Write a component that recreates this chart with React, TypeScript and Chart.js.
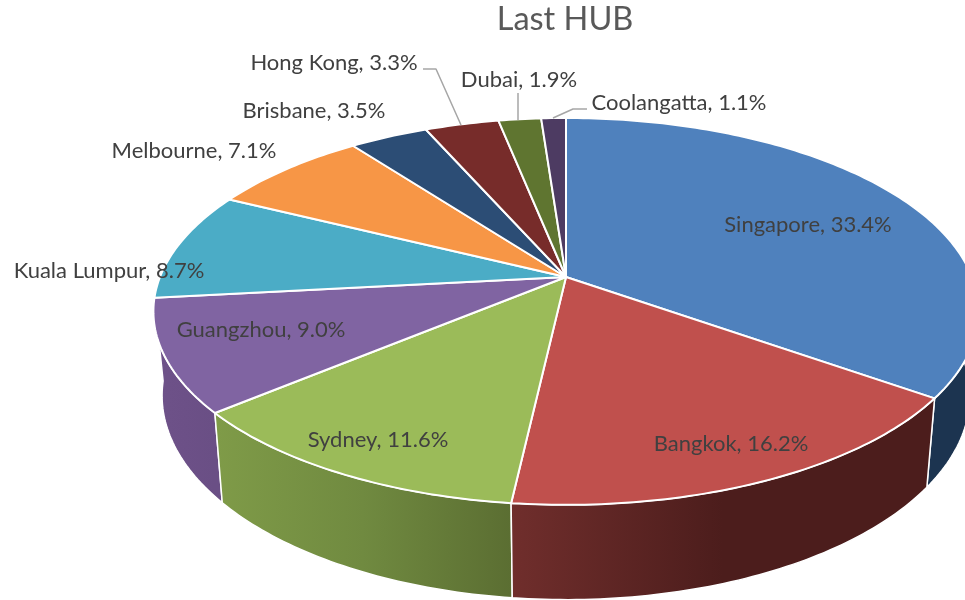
import React, { useEffect, useRef } from "react";
import { Chart, registerables } from "chart.js";

Chart.register(...registerables);

const titleText = "Last HUB";
const categories = ["Singapore", "Bangkok", "Sydney", "Guangzhou", "Kuala Lumpur", "Melbourne", "Brisbane", "Hong Kong", "Dubai", "Coolangatta"];
const shares = [33.4, 16.2, 11.6, 9.0, 8.7, 7.1, 3.5, 3.3, 1.9, 1.1];
const topColors = ["#4f81bd", "#c0504d", "#9bbb59", "#8064a2", "#4bacc6", "#f79646", "#2c4d75", "#772c2a", "#5f7530", "#4d3b62"];
const wallLeft = ["#1c3450", "#702e2c", "#7f9b48", "#6e5289", "#3a8398", "#bb7232", "#203a58", "#5a2120", "#475824", "#3a2c4a"];
const wallMid = ["#1c3450", "#4c1d1c", "#708a40", "#6c5087", "#3a8398", "#bb7232", "#203a58", "#5a2120", "#475824", "#3a2c4a"];
const wallRight = ["#1c3450", "#4c1d1c", "#5b6e32", "#6a4f85", "#3a8398", "#bb7232", "#203a58", "#5a2120", "#475824", "#3a2c4a"];
const labelCenters = [[808, 225], [731, 444], [378, 440], [261, 330], [109, 271], [194, 151], [314, 111], [334, 63], [519, 80], [679, 103]];
const leaders = [
  [[423, 69], [436, 69], [461, 125]],
  [[518, 93], [518, 120]],
  [[587, 109], [573, 109], [553, 118]],
];

// Perspective of the tilted disc: maps a point of the unit circle to the screen.
const CX = 566, CY = 277, RX = 406, RY = 138, TILT = -0.178;
const project = (angle: number) => {
  const u = Math.cos(angle), v = Math.sin(angle), w = 1 + TILT * v;
  return { x: CX + (RX * u) / w, y: (RY * v + CY) / w };
};
const lower = (p: { x: number; y: number }) => ({ x: CX + (p.x - CX) * 0.979, y: p.y * 1.055 + 67 });

const samples = (start: number, end: number) => {
  const n = Math.max(4, Math.ceil((end - start) * 60));
  const out = [];
  for (let i = 0; i <= n; i++) out.push(project(start + ((end - start) * i) / n));
  return out;
};

const pie3d = {
  id: "pie3d",
  beforeDatasetsDraw(chart: any) {
    const ctx: CanvasRenderingContext2D = chart.ctx;
    const arcs = chart.getDatasetMeta(0).data.map((el: any, i: number) => {
      const { startAngle, endAngle } = el.getProps(["startAngle", "endAngle"], true);
      return { i, startAngle, endAngle, pts: samples(startAngle, endAngle) };
    });
    ctx.save();
    ctx.lineJoin = "round";
    // walls, back to front
    [...arcs]
      .sort((a: any, b: any) => Math.sin((a.startAngle + a.endAngle) / 2) - Math.sin((b.startAngle + b.endAngle) / 2))
      .forEach((a: any) => {
        const bottom = a.pts.map(lower);
        const xs = a.pts.filter((p: any, k: number) => Math.sin(a.startAngle + ((a.endAngle - a.startAngle) * k) / (a.pts.length - 1)) > 0).map((p: any) => p.x);
        const x0 = xs.length ? Math.min(...xs) : CX - RX, x1 = xs.length ? Math.max(...xs) : CX + RX;
        const g = ctx.createLinearGradient(x0, 0, x1, 0);
        g.addColorStop(0, wallLeft[a.i]);
        g.addColorStop(0.5, wallMid[a.i]);
        g.addColorStop(1, wallRight[a.i]);
        ctx.beginPath();
        a.pts.forEach((p: any, k: number) => (k ? ctx.lineTo(p.x, p.y) : ctx.moveTo(p.x, p.y)));
        [...bottom].reverse().forEach((p: any) => ctx.lineTo(p.x, p.y));
        ctx.closePath();
        ctx.fillStyle = g;
        ctx.fill();
        ctx.strokeStyle = "#ffffff";
        ctx.lineWidth = 1.5;
        ctx.stroke();
      });
    // top faces
    arcs.forEach((a: any) => {
      ctx.beginPath();
      ctx.moveTo(CX, CY);
      a.pts.forEach((p: any) => ctx.lineTo(p.x, p.y));
      ctx.closePath();
      ctx.fillStyle = topColors[a.i];
      ctx.fill();
      ctx.strokeStyle = "#ffffff";
      ctx.lineWidth = 2;
      ctx.stroke();
    });
    // leader lines
    ctx.strokeStyle = "#a6a6a6";
    ctx.lineWidth = 1.5;
    leaders.forEach((line) => {
      ctx.beginPath();
      line.forEach(([x, y], k) => (k ? ctx.lineTo(x, y) : ctx.moveTo(x, y)));
      ctx.stroke();
    });
    // labels and title
    ctx.textAlign = "center";
    ctx.textBaseline = "middle";
    ctx.fillStyle = "#404040";
    ctx.font = "22px Lato";
    categories.forEach((name, i) => {
      ctx.fillText(`${name}, ${shares[i].toFixed(1)}%`, labelCenters[i][0], labelCenters[i][1]);
    });
    ctx.fillStyle = "#595959";
    ctx.font = "32.5px Lato";
    ctx.fillText(titleText, 565, 20);
    ctx.restore();
    return false;
  },
};

export default function App() {
  const ref = useRef<HTMLCanvasElement>(null);
  useEffect(() => {
    const chart = new Chart(ref.current!, {
      type: "pie",
      data: { labels: categories, datasets: [{ data: shares, backgroundColor: topColors, borderColor: "#ffffff" }] },
      options: {
        responsive: false,
        animation: false,
        plugins: { legend: { display: false }, tooltip: { enabled: false } },
      },
      plugins: [pie3d],
    } as any);
    return () => chart.destroy();
  }, []);
  return (
    <div style={{ position: "absolute", left: 0, top: 0, width: 965, height: 600, background: "#fff" }}>
      <canvas ref={ref} width={965} height={600} style={{ display: "block" }} />
    </div>
  );
}
